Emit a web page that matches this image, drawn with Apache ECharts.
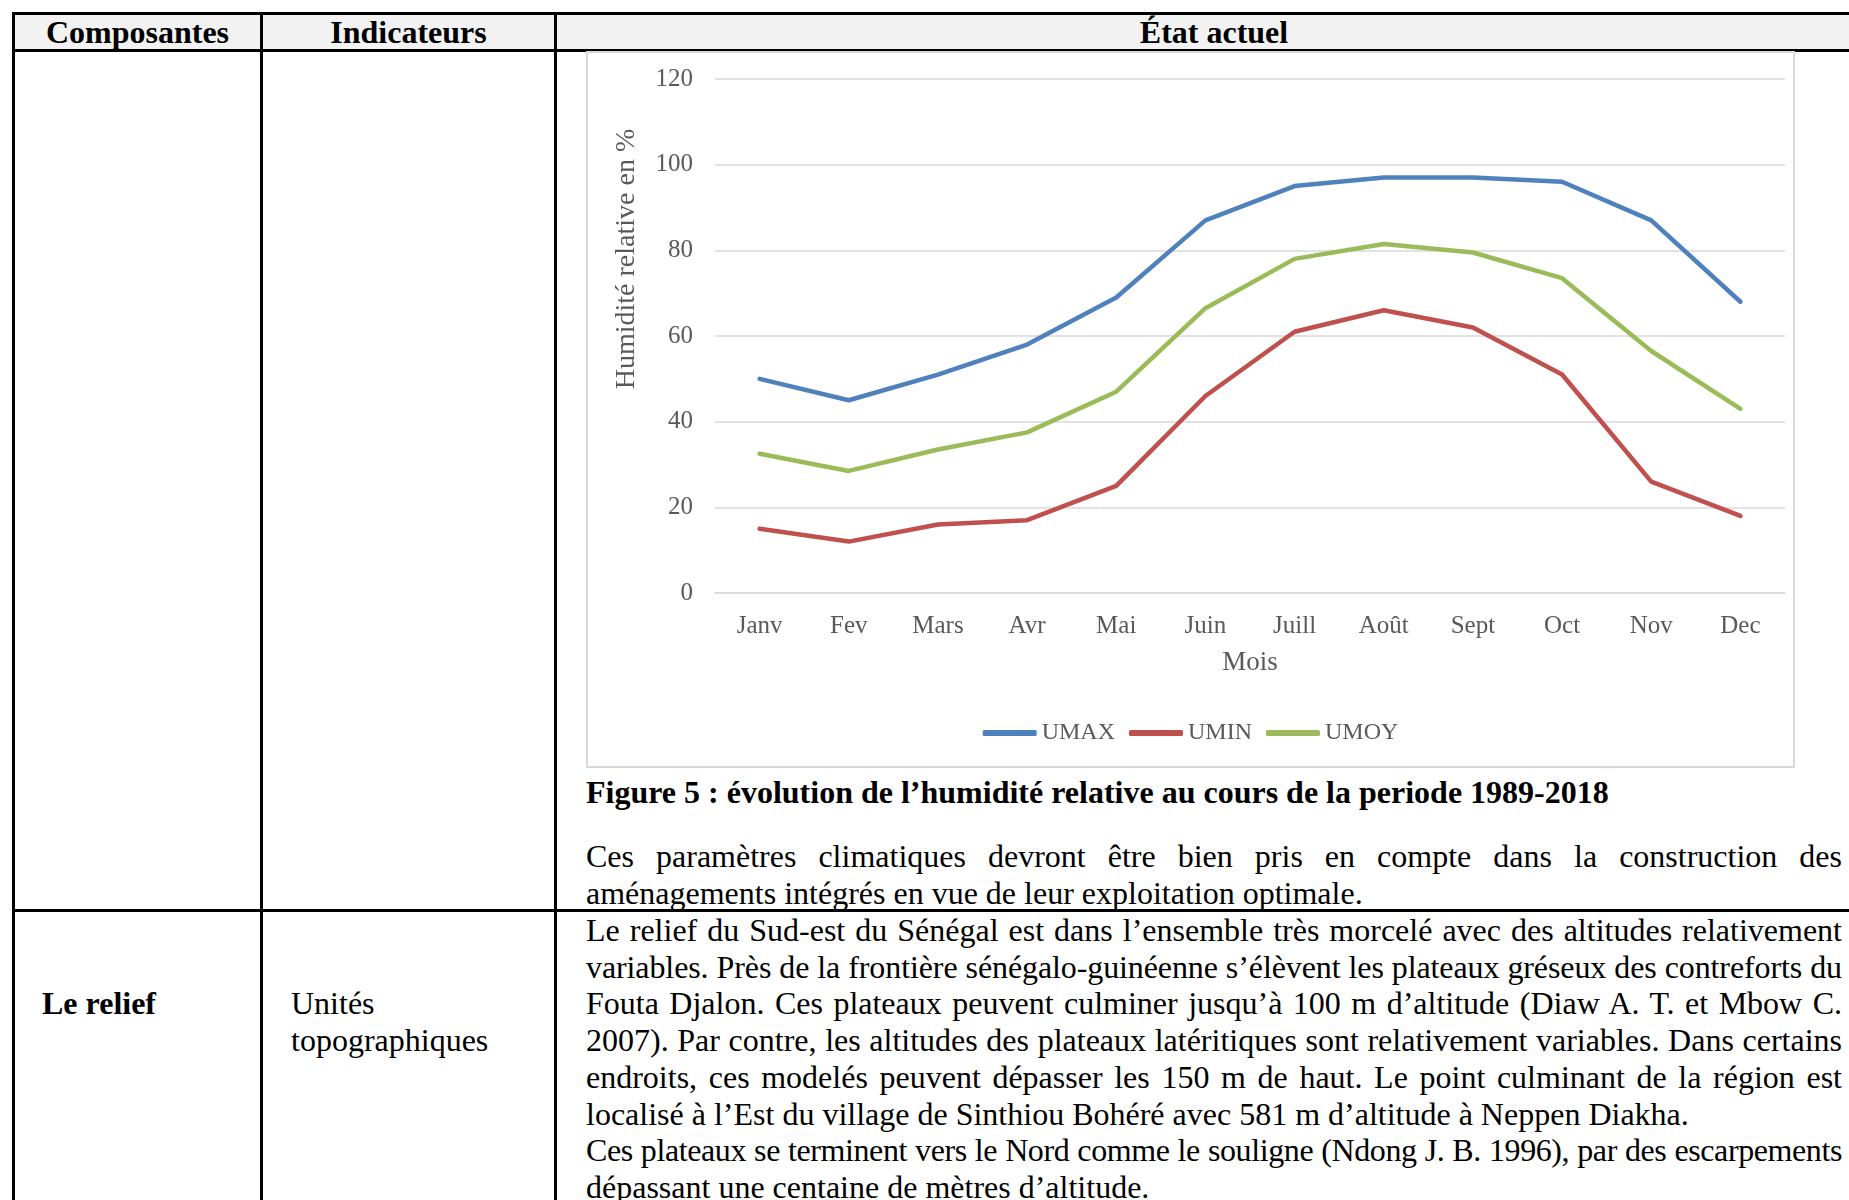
<!DOCTYPE html>
<html>
<head>
<meta charset="utf-8">
<script src="https://cdn.jsdelivr.net/npm/echarts@6/dist/echarts.min.js"></script>
<style>
  html, body { margin: 0; padding: 0; background: #fff; }
  body { width: 1849px; height: 1200px; position: relative; overflow: hidden;
         font-family: "Liberation Serif", "Times New Roman", serif; color: #000; }
  .abs { position: absolute; }
  .ln { position: absolute; background: #000; }
  .hd { position: absolute; top: 15px; height: 34px; line-height: 34px; font-size: 32px;
        font-weight: bold; text-align: center; }
  .txt { position: absolute; font-size: 32px; line-height: 36.7px; }
  .jl { text-align: justify; text-align-last: justify; white-space: normal; }
  #chartBox { position: absolute; left: 586px; top: 51px; width: 1209px; height: 717px;
              border: 2px solid #d9d9d9; box-sizing: border-box; }
  #chart { position: absolute; left: 586px; top: 51px; width: 1209px; height: 717px; }
</style>
</head>
<body>
  <!-- header row background -->
  <div class="abs" style="left:15px;top:15px;width:1860px;height:34px;background:#f2f2f2"></div>

  <!-- table lines -->
  <div class="ln" style="left:12px;top:12px;width:1870px;height:3px"></div>
  <div class="ln" style="left:12px;top:49px;width:1870px;height:3px"></div>
  <div class="ln" style="left:12px;top:909px;width:1870px;height:3px"></div>
  <div class="ln" style="left:12px;top:12px;width:3px;height:1200px"></div>
  <div class="ln" style="left:260px;top:12px;width:3px;height:1200px"></div>
  <div class="ln" style="left:554px;top:12px;width:3px;height:1200px"></div>

  <div class="hd" style="left:15px;width:245px">Composantes</div>
  <div class="hd" style="left:263px;width:291px">Indicateurs</div>
  <div class="hd" style="left:557px;width:1314px">État actuel</div>

  <div id="chartBox"></div>
  <div id="chart"></div>

  <div class="txt" style="left:586px;top:774px;font-weight:bold;white-space:nowrap">Figure 5 : évolution de l’humidité relative au cours de la periode 1989-2018</div>
  <div class="txt jl" style="left:586px;top:838px;width:1256px">Ces paramètres climatiques devront être bien pris en compte dans la construction des</div>
  <div class="txt" style="left:586px;top:875px;white-space:nowrap">aménagements intégrés en vue de leur exploitation optimale.</div>

  <div class="txt" style="left:42px;top:985px;font-weight:bold">Le relief</div>
  <div class="txt" style="left:291px;top:985px">Unités<br>topographiques</div>

  <div class="txt" style="left:586px;top:912px;width:1256px">
    <div class="jl">Le relief du Sud-est du Sénégal est dans l’ensemble très morcelé avec des altitudes relativement</div>
    <div class="jl">variables. Près de la frontière sénégalo-guinéenne s’élèvent les plateaux gréseux des contreforts du</div>
    <div class="jl">Fouta Djalon. Ces plateaux peuvent culminer jusqu’à 100 m d’altitude (Diaw A. T. et Mbow C.</div>
    <div class="jl">2007). Par contre, les altitudes des plateaux latéritiques sont relativement variables. Dans certains</div>
    <div class="jl">endroits, ces modelés peuvent dépasser les 150 m de haut. Le point culminant de la région est</div>
    <div style="white-space:nowrap">localisé à l’Est du village de Sinthiou Bohéré avec 581 m d’altitude à Neppen Diakha.</div>
    <div class="jl">Ces plateaux se terminent vers le Nord comme le souligne (Ndong J. B. 1996), par des escarpements</div>
    <div style="white-space:nowrap">dépassant une centaine de mètres d’altitude.</div>
  </div>

<script>
  // tighten any justified line that would wrap
  document.querySelectorAll('.jl').forEach(function (el) {
    var ls = 0;
    while (el.offsetHeight > 50 && ls > -3) {
      ls -= 0.1;
      el.style.letterSpacing = ls + 'px';
    }
  });

  const months = ['Janv', 'Fev', 'Mars', 'Avr', 'Mai', 'Juin', 'Juill', 'Août', 'Sept', 'Oct', 'Nov', 'Dec'];
  const umax = [50, 45, 51, 58, 69, 87, 95, 97, 97, 96, 87, 68];
  const umin = [15, 12, 16, 17, 25, 46, 61, 66, 62, 51, 26, 18];
  const umoy = [32.5, 28.5, 33.5, 37.5, 47, 66.5, 78, 81.5, 79.5, 73.5, 56.5, 43];

  const font = '"Liberation Serif", serif';
  const grey = '#595959';

  let mychart = echarts.init(document.getElementById('chart'));
  const option = {
    animation: false,
    color: ['#4f81bd', '#c0504d', '#9bbb59'],
    grid: {
      left: 129,
      right: 10,
      top: 28,
      bottom: 175,
      containLabel: false
    },
    legend: {
      data: ['UMAX', 'UMIN', 'UMOY'],
      left: 'center',
      top: 665,
      icon: 'roundRect',
      itemWidth: 54,
      itemHeight: 6,
      itemGap: 14,
      textStyle: { color: grey, fontSize: 24, fontFamily: font }
    },
    xAxis: {
      type: 'category',
      data: months,
      boundaryGap: true,
      axisTick: { show: false },
      axisLine: { show: true, lineStyle: { color: '#d9d9d9', width: 1.5 } },
      axisLabel: { color: grey, fontSize: 25, fontFamily: font, margin: 21 },
      name: 'Mois',
      nameLocation: 'middle',
      nameGap: 56,
      nameTextStyle: { color: grey, fontSize: 27, fontFamily: font }
    },
    yAxis: {
      type: 'value',
      min: 0,
      max: 120,
      interval: 20,
      axisLine: { show: false },
      axisTick: { show: false },
      splitLine: { lineStyle: { color: '#d9d9d9', width: 1.5 } },
      axisLabel: { color: grey, fontSize: 25, fontFamily: font, margin: 22 },
      name: 'Humidité relative en %',
      nameLocation: 'middle',
      nameGap: 74,
      nameRotate: 90,
      nameTextStyle: { color: grey, fontSize: 28, fontFamily: font, padding: [0, 0, 0, 154] }
    },
    series: [
      { name: 'UMAX', type: 'line', data: umax, symbol: 'none',
        lineStyle: { width: 4.5, cap: 'round', join: 'round' } },
      { name: 'UMIN', type: 'line', data: umin, symbol: 'none',
        lineStyle: { width: 4.5, cap: 'round', join: 'round' } },
      { name: 'UMOY', type: 'line', data: umoy, symbol: 'none',
        lineStyle: { width: 4.5, cap: 'round', join: 'round' } }
    ]
  };
  mychart.setOption(option);
</script>
</body>
</html>
